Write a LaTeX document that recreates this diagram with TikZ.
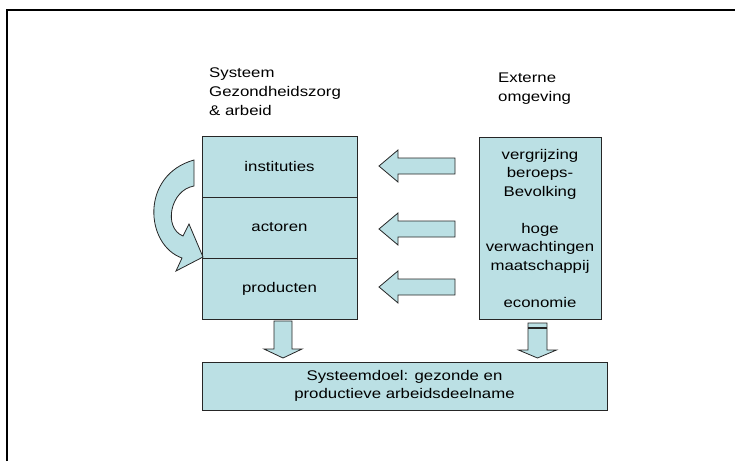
\documentclass[tikz,border=0pt]{standalone}
\usepackage{fontspec}
\setmainfont{Liberation Sans}[FakeStretch=1.2]
\usetikzlibrary{
    positioning
}
\definecolor{lichtblauw}{RGB}{187,224,228}
\tikzset{
    tekst/.style={inner sep=0pt, align=left, font=\fontsize{14}{19}\selectfont},
    vlak/.style={draw=black!85, fill=lichtblauw, line width=0.8pt},
    blok/.style={vlak, inner sep=0pt, outer sep=0pt,
        align=center, font=\fontsize{14}{18.5}\selectfont},
    rij/.style={blok, minimum width=155pt, minimum height=61pt},
    pics/pijllinks/.style={code={
        \draw[vlak] (0,-8) -- (-57,-8) -- (-57,-16) -- (-76,0) -- (-57,16) -- (-57,8) -- (0,8) -- cycle;
    }},
    pics/pijlneer/.style n args={3}{code={
        \draw[vlak] (-#1,0) -- (-#1,{#2-#3}) -- (-19,{#2-#3}) -- (0,#2)
            -- (19,{#2-#3}) -- (#1,{#2-#3}) -- (#1,0) -- cycle;
    }}
}

\begin{document}
\begin{tikzpicture}[x=1pt, y=-1pt]
    \useasboundingbox (0,0) rectangle (735,461);
    \draw[line width=2.3pt] (7,461) -- (7,10) -- (735,10);

    % systeem
    \node[tekst, anchor=north west] (systeem) at (209,68) {Systeem\\Gezondheidszorg\\\& arbeid};
    \node[rij] (inst) at (279.5,166.5) {instituties};
    \node[rij, below=0pt of inst] (act) {actoren};
    \node[rij, below=0pt of act] (prod) {producten};

    % externe omgeving
    \node[tekst, anchor=north west] (externe) at (498,73) {Externe\\omgeving};
    \node[blok, minimum width=122pt, minimum height=182pt] (ext) at (540,228)
        {vergrijzing\\beroeps-\\Bevolking\\[18.5pt]hoge\\verwachtingen\\maatschappij\\[18.5pt]economie};

    % doel
    \node[blok, minimum width=405pt, minimum height=48pt] (doel) at (404.5,386)
        {Systeemdoel: gezonde en\\productieve arbeidsdeelname};

    \pic (in1) at (455,166) {pijllinks};
    \pic (in2) at (455,229) {pijllinks};
    \pic (in3) at (455,287) {pijllinks};

    \pic (neer1) at (283,321) {pijlneer={9}{37}{9}};
    \pic (neer2) at (537.5,323) {pijlneer={9.5}{35}{8}};
    \draw[black!85, line width=1.2pt] (528,328) -- (547,328);

    % terugkoppeling
    \draw[vlak]
        (194,160) -- (194,186)
        .. controls (170,190) and (163,228) .. (183,236)
        -- (189,224) -- (203,257) -- (176,271) -- (182,258)
        .. controls (145,245) and (140,175) .. (194,160) -- cycle;
\end{tikzpicture}
\end{document}
